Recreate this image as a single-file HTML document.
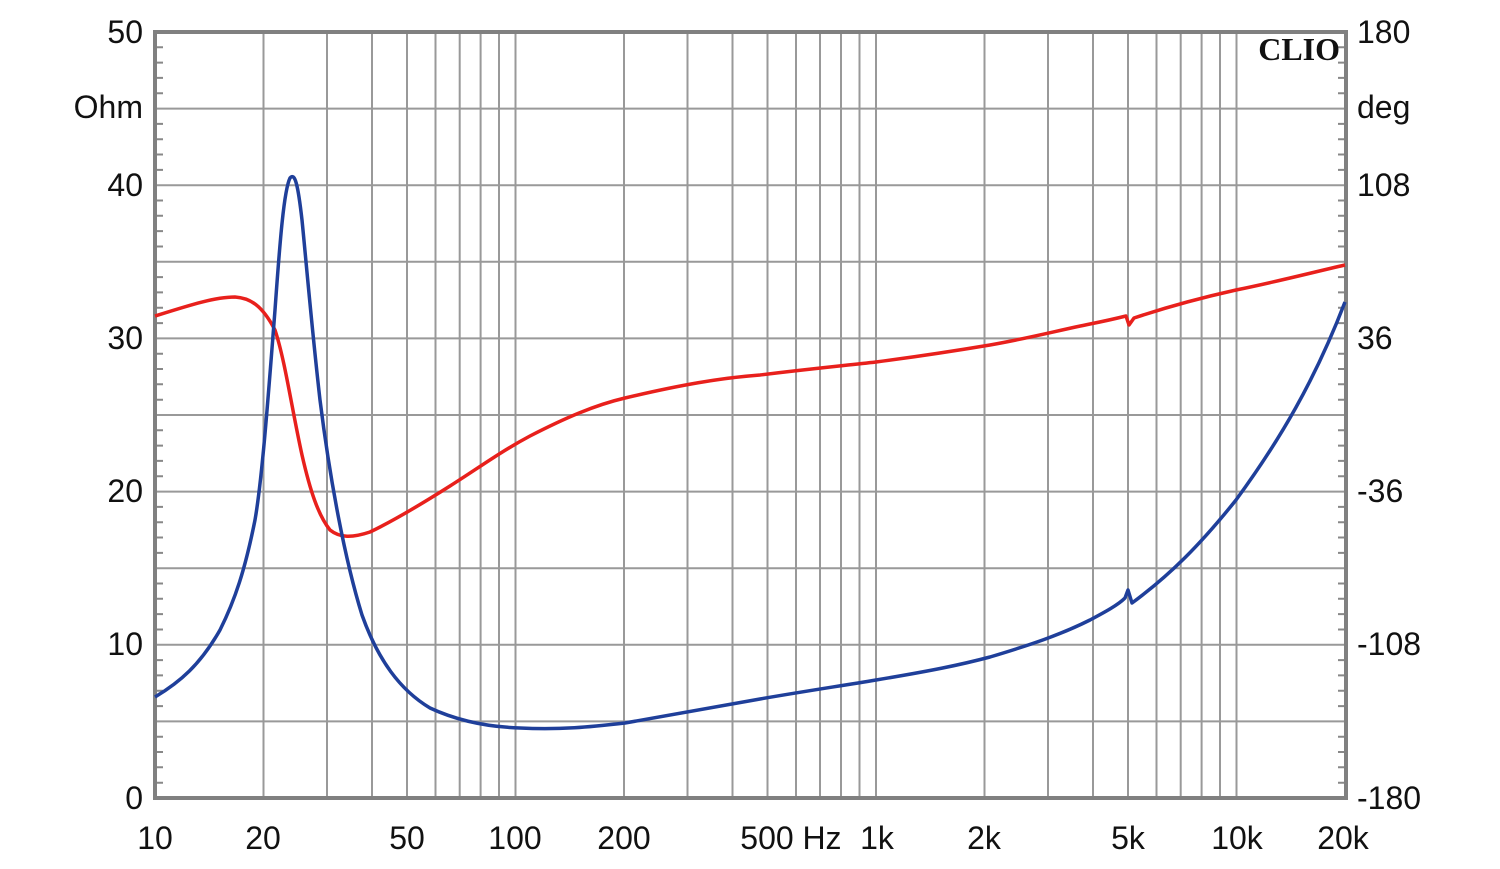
<!DOCTYPE html>
<html><head><style>
body{margin:0;background:#fff;}
svg text{font-family:"Liberation Sans",sans-serif;font-size:32px;fill:#111;}
</style></head><body>
<svg width="1500" height="864" xmlns="http://www.w3.org/2000/svg">
<g stroke="#999" stroke-width="2" fill="none">
<path d="M155,108.6H1346M155,185.2H1346M155,261.8H1346M155,338.4H1346M155,415H1346M155,491.6H1346M155,568.2H1346M155,644.8H1346M155,721.4H1346"/>
<path d="M263.5,32V798M327,32V798M372,32V798M407,32V798M435.5,32V798M459.7,32V798M480.6,32V798M499,32V798M515.5,32V798
M624,32V798M687.5,32V798M732.5,32V798M767.5,32V798M796,32V798M820,32V798M841,32V798M859.5,32V798M876,32V798
M984.5,32V798M1048,32V798M1093,32V798M1128,32V798M1156.5,32V798M1180.7,32V798M1201.6,32V798M1220,32V798M1236.5,32V798"/>
</g>
<g stroke="#888" stroke-width="2">
<path id="tk" d="M155,47.3h8M155,62.6h8M155,77.9h8M155,93.3h8M155,123.9h8M155,139.2h8M155,154.5h8M155,169.9h8M155,200.5h8M155,215.8h8M155,231.1h8M155,246.5h8M155,277.1h8M155,292.4h8M155,307.7h8M155,323.1h8M155,353.7h8M155,369h8M155,384.3h8M155,399.7h8M155,430.3h8M155,445.6h8M155,460.9h8M155,476.3h8M155,506.9h8M155,522.2h8M155,537.5h8M155,552.9h8M155,583.5h8M155,598.8h8M155,614.1h8M155,629.5h8M155,660.1h8M155,675.4h8M155,690.7h8M155,706.1h8M155,736.7h8M155,752h8M155,767.3h8M155,782.7h8"/>
<use href="#tk" transform="translate(1501,0) scale(-1,1)"/>
</g>
<rect x="155" y="32" width="1191" height="766" fill="none" stroke="#808080" stroke-width="4"/>
<path fill="none" stroke="#e8201c" stroke-width="3.5" stroke-linejoin="round" d="M155,316 C190,305 215,297 235,297 C250,298 262,305 275,330 C285,360 292,410 302,455 C310,490 318,515 330,530 C340,538 352,538 370,532 C395,520 420,505 450,486 C480,467 500,452 530,436 C565,418 595,405 625,398 C680,385 720,378 760,375 C800,370 840,366 876,362 C930,355 960,350 990,345 C1030,338 1060,330 1090,324 C1105,321 1118,318 1126,316 L1129,325 L1134,318 C1170,306 1200,298 1236,290 C1280,281 1310,273 1345,265"/>
<path fill="none" stroke="#1f3f9a" stroke-width="3.5" stroke-linejoin="round" d="M155,697 C180,682 200,665 220,630 C235,600 245,570 255,520 C262,480 268,400 275,310 C280,240 284,190 290,178 C295,172 298,185 302,220 C306,260 312,330 320,400 C330,480 345,560 362,615 C378,660 400,690 430,708 C460,722 490,727 520,728 C560,730 590,727 625,723 C680,713 720,706 760,699 C800,692 840,686 876,680 C930,671 960,665 990,657 C1030,645 1060,635 1090,620 C1105,612 1118,605 1125,598 L1128,590 L1132,603 C1170,575 1200,545 1236,500 C1280,440 1315,380 1345,302"/>
<g text-anchor="end">
<text x="143" y="43">50</text><text x="143" y="118">Ohm</text><text x="143" y="196">40</text><text x="143" y="349">30</text><text x="143" y="502">20</text><text x="143" y="655">10</text><text x="143" y="809">0</text>
</g>
<g>
<text x="1357" y="43">180</text><text x="1357" y="118">deg</text><text x="1357" y="196">108</text><text x="1357" y="349">36</text><text x="1357" y="502">-36</text><text x="1357" y="655">-108</text><text x="1357" y="809">-180</text>
</g>
<g text-anchor="middle">
<text x="155" y="849">10</text><text x="263" y="849">20</text><text x="407" y="849">50</text><text x="515" y="849">100</text><text x="624" y="849">200</text><text x="767" y="849">500</text><text x="822" y="849">Hz</text><text x="877" y="849">1k</text><text x="984" y="849">2k</text><text x="1128" y="849">5k</text><text x="1237" y="849">10k</text><text x="1343" y="849">20k</text>
</g>
<text x="1340" y="60" text-anchor="end" style="font-family:'Liberation Serif',serif;font-weight:bold;font-size:32px">CLIO</text>
</svg>
</body></html>
